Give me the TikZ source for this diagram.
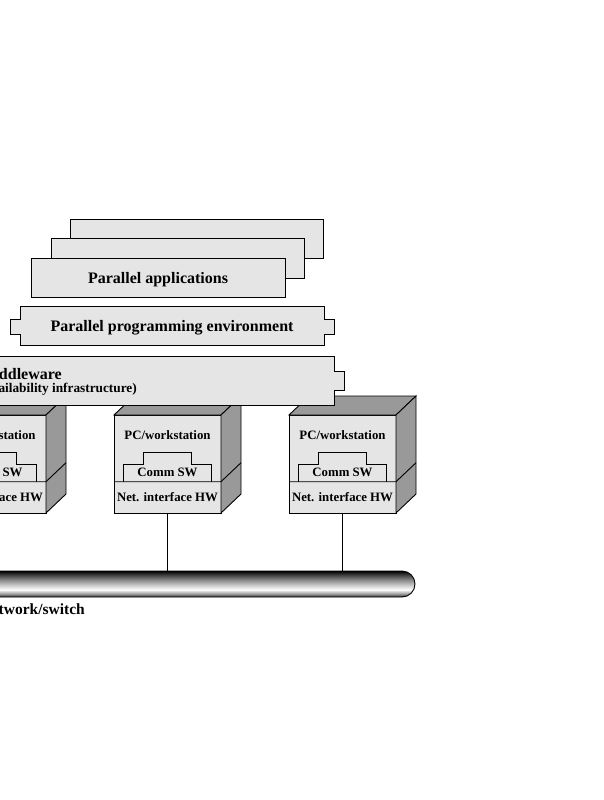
\documentclass[tikz,border=0pt]{standalone}
\usepackage{fontspec}
\setmainfont{Liberation Serif}
\pgfdeclareverticalshading{tubeshade}{100bp}{color(0bp)=(black!80); color(25bp)=(black!80); color(31bp)=(black!40); color(39bp)=(white); color(47.5bp)=(black!20); color(57.5bp)=(black!45); color(67.5bp)=(black!75); color(75bp)=(black); color(100bp)=(black)}
\begin{document}
\begin{tikzpicture}[x=1pt,y=-1pt,
  lite/.style={fill=black!10,draw=black,line width=0.9pt},
  dark/.style={fill=black!40,draw=black,line width=0.9pt},
  line/.style={draw=black,line width=0.9pt},
  big/.style={font=\fontsize{16}{18}\selectfont\bfseries, inner sep=0pt},
  small/.style={font=\fontsize{12.8}{14}\selectfont\bfseries, inner sep=0pt},
  mid/.style={font=\fontsize{13.3}{15}\selectfont\bfseries, inner sep=0pt},
  wire/.style={draw=black, line width=0.9pt}]
\useasboundingbox (0,0) rectangle (604,800);
\clip (0,0) rectangle (604,800);

% stacked application boxes
\node[lite, minimum width=253pt, minimum height=39pt, inner sep=0pt] (app3) at (196.5,238.5) {};
\node[lite, minimum width=253pt, minimum height=39.5pt, inner sep=0pt] (app2) at (177.5,258.25) {};
\node[lite, minimum width=254pt, minimum height=39pt, inner sep=0pt] (app1) at (158,277.5) {};
\node[big] (applbl) at (158,280) {Parallel applications};

% parallel programming environment
\path[lite] (20,306) -- (324,306) -- (324,319) -- (334,319) -- (334,334) -- (324,334) -- (324,345)
  -- (20,345) -- (20,334) -- (10,334) -- (10,319) -- (20,319) -- cycle;
\node[big] (envlbl) at (172,328) {Parallel programming environment};

% computers
\foreach \c/\n in {-7.5/1, 167.5/2, 342.5/3}{
  \node[lite, minimum width=107pt, minimum height=98pt, inner sep=0pt] (pc\n) at (\c,464) {};
  \path[dark] (\c-53.5,415) -- (\c-33.5,396) -- (\c+73.5,396) -- (\c+53.5,415) -- cycle;
  \path[dark] (\c+53.5,415) -- (\c+73.5,396) -- (\c+73.5,494) -- (\c+53.5,513) -- cycle;
  \draw[line] (\c-53.5,481.7) -- (\c+53.5,481.7) -- (\c+73.5,462.7);
  \draw[line] (\c-44,481.7) -- (\c-44,464) -- (\c-24,464) -- (\c-24,452.3) -- (\c+24,452.3)
     -- (\c+24,464) -- (\c+44,464) -- (\c+44,481.7);
  \node[small] (pcl\n) at (\c,435) {PC/workstation};
  \node[small] (comm\n) at (\c,472) {Comm SW};
  \node[small] (nic\n) at (\c,497.5) {Net. interface HW};
}

% middleware
\path[lite] (-250,356) -- (334,356) -- (334,371) -- (344,371) -- (344,390) -- (334,390) -- (334,405)
  -- (-250,405) -- cycle;
\node[big, anchor=base east] (mw1) at (62,379) {Cluster middleware};
\node[mid, anchor=base east] (mw2) at (137,392.5) {(Single system image and availability infrastructure)};

% network
\node[draw=black, line width=0.9pt, shading=tubeshade, rounded corners=13pt, minimum width=665pt,
  minimum height=26pt, inner sep=0pt] (net) at (82.5,584) {};
\node[big, font=\fontsize{15.5}{17}\selectfont\bfseries, anchor=base east] (netlbl) at (85,614.5) {High speed network/switch};

% connectors
\draw[wire] (pc2.south) -- (pc2.south |- net.north);
\draw[wire] (pc3.south) -- (pc3.south |- net.north);
\end{tikzpicture}
\end{document}
